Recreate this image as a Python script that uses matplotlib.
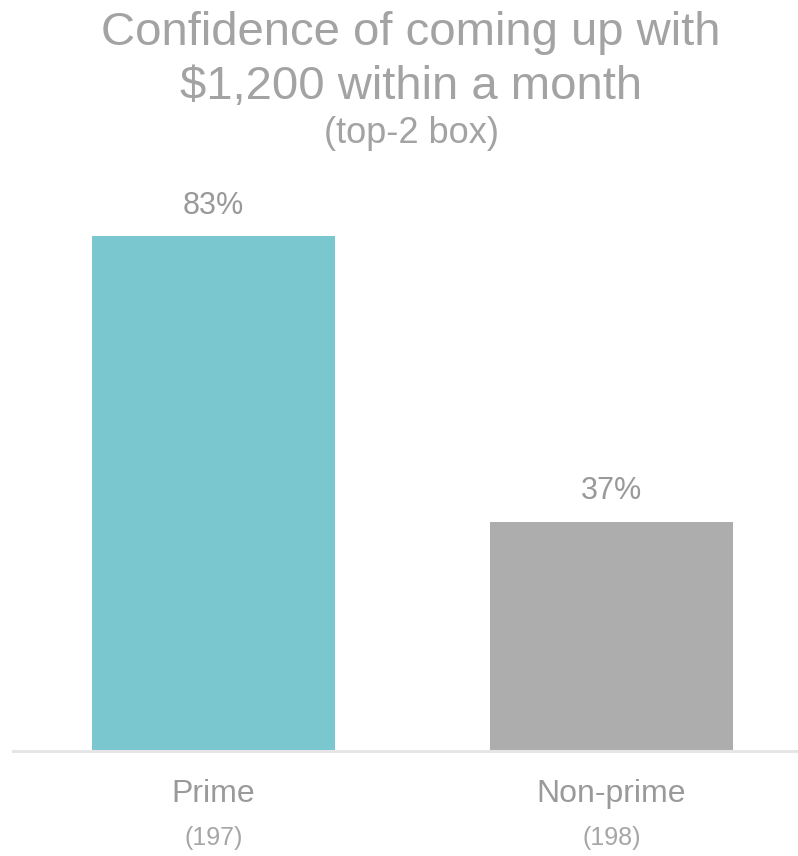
import matplotlib
matplotlib.use("Agg")
import matplotlib.pyplot as plt
from matplotlib.transforms import blended_transform_factory

plt.rcParams['font.family'] = ['Liberation Sans', 'DejaVu Sans']

categories = ["Prime", "Non-prime"]
sample_sizes = ["(197)", "(198)"]
values = [83, 37]
bar_colors = ["#7ac7d0", "#adadad"]

W, H = 798, 856
fig = plt.figure(figsize=(W / 100, H / 100), dpi=100)

# axes placed in pixel terms: baseline at y=751, 6.2 px per percent
ax = fig.add_axes([13 / W, (H - 751) / H, 784 / W, 620 / H])
x = list(range(len(categories)))
ax.bar(x, values, width=0.61, color=bar_colors)
ax.set_xlim(-0.504, 1.466)
ax.set_ylim(0, 100)

for s in ["top", "right", "left"]:
    ax.spines[s].set_visible(False)
ax.spines["bottom"].set_color("#e6e6e6")
ax.spines["bottom"].set_linewidth(2.2)
ax.set_xticks([])
ax.set_yticks([])

for xi, v in zip(x, values):
    ax.annotate(f"{v}%", (xi, v), xytext=(0, 16), textcoords="offset points",
                ha="center", va="baseline", fontsize=22, color="#999999")

tr = blended_transform_factory(ax.transData, fig.transFigure)
for xi, cat, n in zip(x, categories, sample_sizes):
    ax.text(xi, 1 - 802 / H, cat, transform=tr, ha="center", va="baseline",
            fontsize=23, color="#9a9a9a")
    ax.text(xi, 1 - 845 / H, n, transform=tr, ha="center", va="baseline",
            fontsize=18, color="#a6a6a6")

title_color = "#a3a3a3"
fig.text(411 / W, 1 - 45 / H, "Confidence of coming up with", ha="center",
         va="baseline", fontsize=34, color=title_color)
fig.text(411 / W, 1 - 99 / H, "$1,200 within a month", ha="center",
         va="baseline", fontsize=34, color=title_color)
fig.text(411 / W, 1 - 143 / H, "(top-2 box)", ha="center",
         va="baseline", fontsize=26, color=title_color)

fig.savefig("out.png", dpi=100)
